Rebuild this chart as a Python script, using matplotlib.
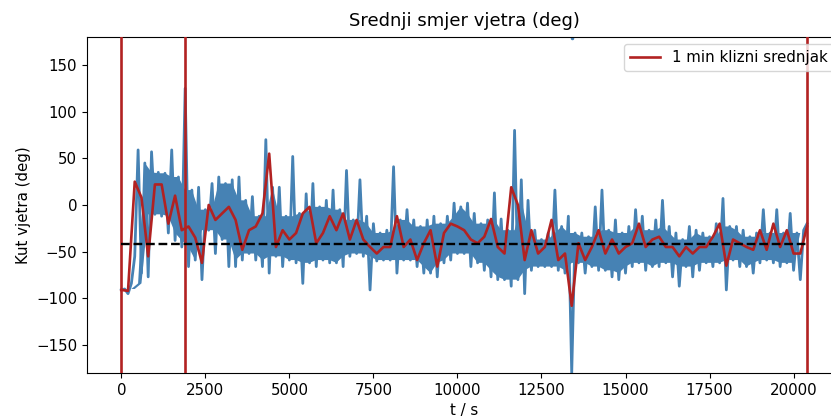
import numpy as np
import matplotlib
matplotlib.use("Agg")
import matplotlib.pyplot as plt

# ---- data ----
step_s = 200  # sampling of the read-off envelope, seconds
# lower envelope of raw direction at t = k*200 s
blue_lo = [-91, -95, -55, -73, -77, -10, -12, -30, -38, -45,
           -66, -59, -80, -27, -52, -37, -66, -66, -59, -52,
           -59, -66, -73, -55, -66, -59, -62, -84, -62, -66,
           -59, -62, -62, -66, -55, -52, -55, -91, -60, -59,
           -59, -73, -59, -59, -66, -73, -73, -77, -62, -59,
           -52, -52, -66, -62, -70, -77, -80, -80, -87, -80,
           -95, -70, -66, -66, -66, -70, -73, -180, -62, -73,
           -66, -70, -70, -77, -80, -73, -66, -62, -70, -66,
           -66, -62, -77, -87, -66, -77, -70, -62, -66, -62,
           -91, -59, -66, -66, -73, -62, -59, -62, -66, -62,
           -70, -80, -20]
# upper envelope of raw direction at t = k*200 + 100 s
blue_hi = [-90, -84, 59, 45, 57, 35, 34, 59, 30, 125,
           16, 19, -5, 23, 30, 23, 27, 30, 5, 9,
           -12, 70, 19, 19, -12, 52, -9, 12, 23, -2,
           5, 16, -5, 37, -16, 27, -12, -20, -30, -27,
           41, -16, -5, -16, -23, -16, -12, -20, -12, 2,
           -2, 2, -9, -20, -16, 13, -15, -27, 80, 27,
           5, -27, -37, -30, 16, -23, -12, -30, -30, -34,
           -2, 16, -27, -16, -30, -23, -5, -12, -27, -16,
           5, -23, -30, -37, -23, -27, -30, -34, -20, 7,
           -23, -23, -27, -34, -30, -5, -30, -5, -30, -9,
           -30, -27]
# 1-minute moving average at t = k*200 s
red_avg = [-91, -92, 25, 8, -55, 22, 22, -20, 10, -27,
           -23, -35, -62, 0, -16, -9, -2, -16, -48, -27,
           -23, -9, 55, -45, -27, -37, -30, -9, -2, -41,
           -30, -12, -27, -9, -37, -16, -37, -45, -52, -45,
           -45, -12, -45, -37, -59, -41, -27, -66, -30, -20,
           -23, -27, -37, -41, -34, -15, -45, -52, 19, 0,
           -59, -27, -52, -45, -16, -59, -52, -108, -41, -59,
           -45, -27, -52, -37, -52, -45, -41, -20, -45, -37,
           -34, -45, -45, -55, -45, -52, -45, -45, -34, -20,
           -65, -37, -41, -45, -48, -27, -48, -20, -45, -27,
           -52, -52, -23]
# moments where the moving average wraps across +-180 deg
red_wrap_t = [0, 1900, 20400]
# isolated raw sample wrapped to the top of the range
blue_wrap_t = [13400]
blue_wrap_v = [179]
mean_dir = -42
t_end = 20400

# ---- build series ----
lo = np.array(blue_lo, float)
hi = np.array(blue_hi, float)
t_lo = np.arange(len(lo)) * step_s
t_hi = np.arange(len(hi)) * step_s + step_s / 2
bt, bv = [], []
for i in range(len(lo)):
    bt.append(t_lo[i]); bv.append(lo[i])
    if i < len(hi):
        bt.append(t_hi[i]); bv.append(hi[i])
t_red = np.arange(len(red_avg)) * step_s

# dense core of the raw band (isolated spikes removed by a 3-point min/max)
hp = np.pad(hi, 1, mode='edge')
lp = np.pad(lo, 1, mode='edge')
core_hi = np.minimum(np.minimum(hp[:-2], hp[1:-1]), hp[2:])
core_lo = np.maximum(np.maximum(lp[:-2], lp[1:-1]), lp[2:])
# keep the lower core below the neighbouring upper core
ch = np.pad(core_hi, 1, mode='edge')
core_lo = np.minimum(core_lo, np.minimum(ch[:-1], ch[1:]))
poly_t = np.concatenate([t_hi, t_lo[::-1]])
poly_v = np.concatenate([core_hi, core_lo[::-1]])

wt, wv = [], []
for w in red_wrap_t:
    wt += [w, w, np.nan]
    wv += [180, -180, np.nan]

fs = 10.8
fig = plt.figure(figsize=(8.31, 4.19), dpi=100)
ax = fig.add_axes([0.1047, 0.1098, 0.9077, 0.8019])

ax.fill(poly_t, poly_v, color='steelblue', lw=0, zorder=2)
ax.plot(bt, bv, color='steelblue', lw=2.0, zorder=2)
ax.plot(blue_wrap_t, blue_wrap_v, '.', color='steelblue', ms=3, zorder=2)
line_red, = ax.plot(t_red, red_avg, color='#b22222', lw=1.9, zorder=3,
                    label='1 min klizni srednjak')
ax.plot(wt, wv, color='#b22222', lw=1.9, zorder=3)
ax.hlines(mean_dir, 0, t_end, colors='black', linestyles='--', lw=1.7, zorder=4)

ax.set_xlim(-1020, 21420)
ax.set_ylim(-180, 180)
ax.set_xticks(np.arange(0, 20001, 2500))
ax.set_yticks([-150, -100, -50, 0, 50, 100, 150])
ax.tick_params(labelsize=fs)
ax.set_title('Srednji smjer vjetra (deg)', fontsize=13, pad=8)
ax.set_xlabel('t / s', fontsize=fs)
ax.set_ylabel('Kut vjetra (deg)', fontsize=fs)
ax.legend(handles=[line_red], loc='upper right', fontsize=fs)

fig.savefig('out.png', dpi=100)
